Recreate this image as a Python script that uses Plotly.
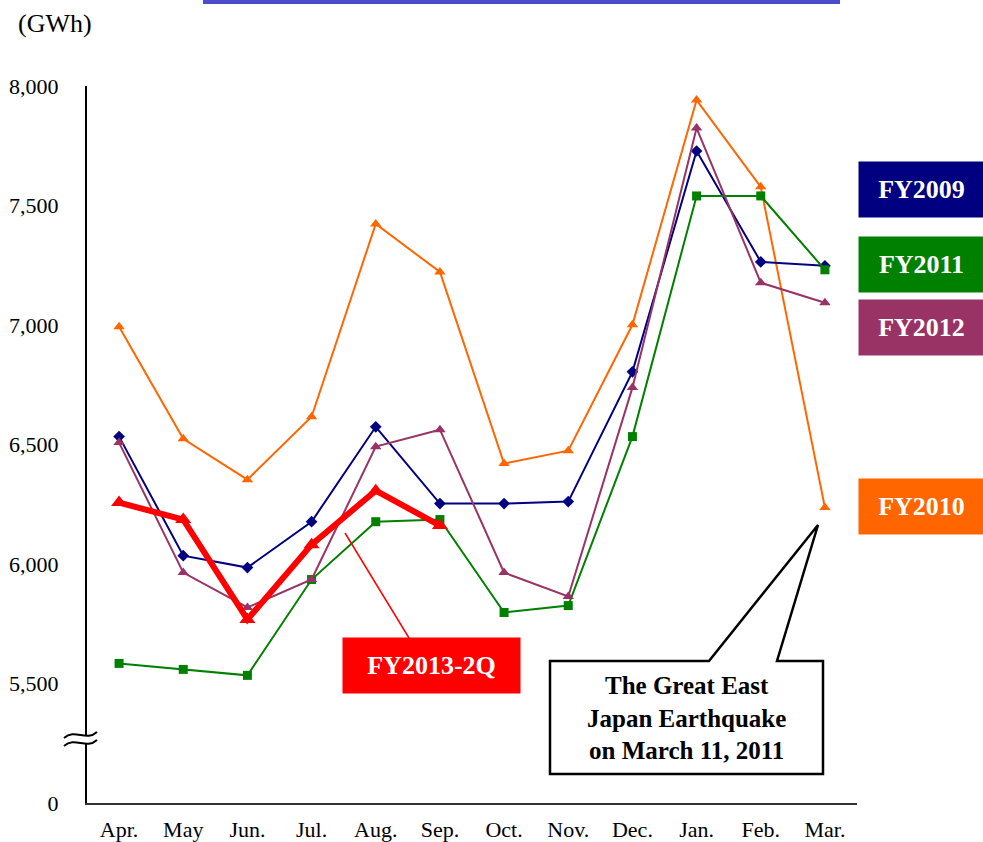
import plotly.graph_objects as go

months = ["Apr.", "May", "Jun.", "Jul.", "Aug.", "Sep.", "Oct.", "Nov.", "Dec.", "Jan.", "Feb.", "Mar."]
fy2009 = [6533, 6035, 5985, 6177, 6574, 6253, 6253, 6261, 6804, 7728, 7264, 7248]
fy2010 = [6993, 6524, 6353, 6616, 7423, 7222, 6420, 6474, 7001, 7941, 7578, 6236]
fy2011 = [5584, 5559, 5534, 5935, 6177, 6186, 5797, 5826, 6533, 7540, 7540, 7231]
fy2012 = [6508, 5964, 5818, 5935, 6491, 6562, 5964, 5864, 6738, 7824, 7177, 7093]
fy2013 = [6257, 6186, 5768, 6081, 6307, 6161]
tick_vals = [5000, 5500, 6000, 6500, 7000, 7500, 8000]
tick_text = ["0", "5,500", "6,000", "6,500", "7,000", "7,500", "8,000"]

W, H = 983, 842
L, R, T, B = 87, 857, 86, 803
FONT = "Liberation Serif"


def px(x):
    return (x - L) / (R - L)


def py(y):
    return (B - y) / (B - T)


fig = go.Figure()
series = [
    ("FY2010", fy2010, "#FF6600", "triangle-up", 10, 2),
    ("FY2009", fy2009, "#000080", "diamond", 9, 2),
    ("FY2011", fy2011, "#008000", "square", 9, 2),
    ("FY2012", fy2012, "#993366", "triangle-up", 10, 2),
    ("FY2013-2Q", fy2013, "#FF0000", "triangle-up", 14, 6),
]
for name, vals, col, sym, ms, lw in series:
    fig.add_trace(go.Scatter(
        x=months[:len(vals)], y=vals, name=name, mode="lines+markers",
        line=dict(color=col, width=lw),
        marker=dict(symbol=sym, size=ms, color=col),
        showlegend=False, hoverinfo="skip",
    ))

shapes = []
annotations = []

# top bar
shapes.append(dict(type="rect", xref="paper", yref="paper", x0=px(203), x1=px(840),
                   y0=py(0), y1=py(4), fillcolor="#4B4BCC", line=dict(width=0), layer="above"))

# axis break mark
def wave(yc):
    x0 = 64
    return [(x0, yc + 3), (x0 + 11, yc - 7), (x0 + 22, yc + 7), (x0 + 33, yc - 3)]


def path_from(pts, start=True):
    s = ""
    for i, (a, b) in enumerate(pts):
        if i == 0 and start:
            s += f"M {px(a):.5f},{py(b):.5f} C"
        elif i == 0:
            s += f" L {px(a):.5f},{py(b):.5f} C"
        else:
            s += f" {px(a):.5f},{py(b):.5f}"
    return s


top = wave(735)
bot = wave(743)
fill_path = path_from(top) + " " + path_from(list(reversed(bot)), start=False) + " Z"
shapes.append(dict(type="path", xref="paper", yref="paper", path=fill_path,
                   fillcolor="white", line=dict(width=0), layer="above"))
for wv in (top, bot):
    shapes.append(dict(type="path", xref="paper", yref="paper", path=path_from(wv),
                       line=dict(color="black", width=2), layer="above"))

# callout box
cpts = [(550, 661), (709, 661), (818, 525), (777, 661), (823, 661), (823, 774), (550, 774)]
cpath = "M " + " L ".join(f"{px(a):.5f},{py(b):.5f}" for a, b in cpts) + " Z"
shapes.append(dict(type="path", xref="paper", yref="paper", path=cpath,
                   fillcolor="white", line=dict(color="black", width=2.5), layer="above"))
annotations.append(dict(xref="paper", yref="paper", x=px(686.5), y=py(718),
                        text="<b>The Great East<br>Japan Earthquake<br>on March 11, 2011</b>",
                        showarrow=False, font=dict(family=FONT, size=25, color="black"),
                        align="center", xanchor="center", yanchor="middle"))

# red leader line
shapes.append(dict(type="line", xref="paper", yref="paper", x0=px(345), y0=py(533),
                   x1=px(409), y1=py(638), line=dict(color="#FF0000", width=1.5), layer="above"))

# series labels
labels = [
    ("FY2009", "#000080", 921.5, 189.5, 123),
    ("FY2011", "#008000", 921.5, 264.5, 123),
    ("FY2012", "#993366", 921.5, 327.5, 123),
    ("FY2010", "#FF6600", 921.5, 506.5, 123),
    ("FY2013-2Q", "#FF0000", 431.5, 665.5, 175),
]
for txt, col, cx, cy, w in labels:
    annotations.append(dict(xref="paper", yref="paper", x=px(cx), y=py(cy),
                            text=f"<b>{txt}</b>", showarrow=False,
                            font=dict(family=FONT, size=26, color="white"),
                            bgcolor=col, width=w, height=53, borderpad=1,
                            xanchor="center", yanchor="middle"))

annotations.append(dict(xref="paper", yref="paper", x=px(55), y=py(23), text="(GWh)",
                        showarrow=False, font=dict(family=FONT, size=26, color="black"),
                        xanchor="center", yanchor="middle"))

fig.update_layout(
    width=W, height=H,
    margin=dict(l=L, r=W - R, t=T, b=H - B, autoexpand=False),
    plot_bgcolor="white", paper_bgcolor="white",
    shapes=shapes, annotations=annotations,
    font=dict(family=FONT, size=22, color="black"),
    xaxis=dict(range=[-0.5, 11.5], showgrid=False, zeroline=False, showline=True,
               linecolor="#333333", linewidth=2, ticks="", tickfont=dict(size=22),
               ticklabelstandoff=6),
    yaxis=dict(range=[5000, 8000], showgrid=False, zeroline=False, showline=True,
               linecolor="black", linewidth=2, ticks="", tickvals=tick_vals,
               ticktext=tick_text, tickfont=dict(size=22), ticklabelstandoff=22),
)

fig.write_html("out.html", config={"displayModeBar": False},
               post_script="document.body.style.margin='0';document.body.style.overflow='hidden';")
